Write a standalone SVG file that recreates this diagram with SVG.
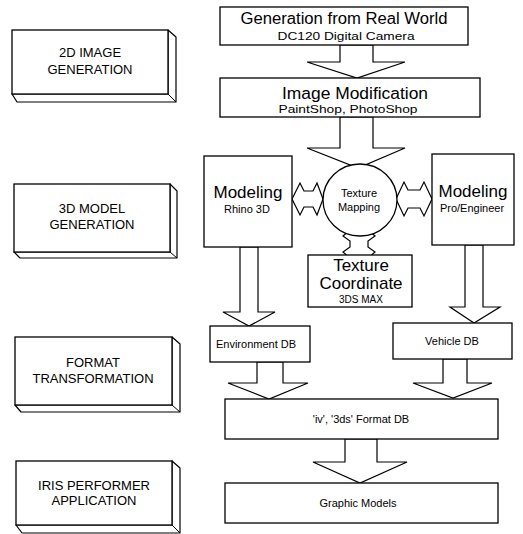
<svg xmlns="http://www.w3.org/2000/svg" width="523" height="534" viewBox="0 0 523 534">
<style>
.bx{fill:#fff;stroke:#000;stroke-width:1.3}
.dp{fill:#fff;stroke:#000;stroke-width:1.2;stroke-linejoin:round}
.ar{fill:#fff;stroke:#000;stroke-width:1.2;stroke-linejoin:miter}
text{font-family:"Liberation Sans",Arial,sans-serif;fill:#000;text-anchor:middle}
.st{font-size:13px}
.big{font-size:16px}
.sm{font-size:11px}
</style>
<rect width="523" height="534" fill="#fff"/>
<g id="stage-2d">
<polygon class="dp" points="168,30 176,37 176,102 17,102 12,94 168,94"/>
<line x1="168" y1="94" x2="176" y2="102" stroke="#000" stroke-width="1"/>
<rect class="bx" x="12" y="30" width="156" height="64"/>
<text class="st" x="90" y="57">2D IMAGE</text>
<text class="st" x="90" y="74">GENERATION</text>
</g>
<g id="stage-3d">
<polygon class="dp" points="170,184 177,191 177,258 20,258 14,252 170,252"/>
<line x1="170" y1="252" x2="177" y2="258" stroke="#000" stroke-width="1"/>
<rect class="bx" x="14" y="184" width="156" height="68"/>
<text class="st" x="92" y="213">3D MODEL</text>
<text class="st" x="92" y="229">GENERATION</text>
</g>
<g id="stage-format">
<polygon class="dp" points="172,337 180,344 180,412 21,412 15,405 172,405"/>
<line x1="172" y1="405" x2="180" y2="412" stroke="#000" stroke-width="1"/>
<rect class="bx" x="15" y="337" width="157" height="68"/>
<text class="st" x="93" y="367">FORMAT</text>
<text class="st" x="93" y="383">TRANSFORMATION</text>
</g>
<g id="stage-iris">
<polygon class="dp" points="172,461 180,468 180,533 22,533 16,525 172,525"/>
<line x1="172" y1="525" x2="180" y2="533" stroke="#000" stroke-width="1"/>
<rect class="bx" x="16" y="461" width="156" height="64"/>
<text class="st" x="94" y="490">IRIS PERFORMER</text>
<text class="st" x="94" y="505">APPLICATION</text>
</g>
<g id="connectors">
<polygon class="ar" points="340,45 340,62 307,62 357,78 405,62 373,62 373,45"/>
<polygon class="ar" points="340,117 340,148 307,148 358,168 405,148 373,148 373,117"/>
<polygon class="ar" points="292,199 300,183 304,191 313,191 317,183 323,199 317,215 313,207 304,207 300,215"/>
<polygon class="ar" points="396,199 404,182 408,190 420,190 424,182 432,199 424,216 420,208 408,208 404,216"/>
<polygon class="ar" points="359,222 375,236 368,241 368,247 375,252 359,266 343,252 350,247 350,241 343,236"/>
<polygon class="ar" points="240,247 240,312 223,312 249,326 275,312 258,312 258,247"/>
<polygon class="ar" points="465,245 465,307 450,307 474,323 500,307 483,307 483,245"/>
<polygon class="ar" points="257,362 257,383 228,383 269,399 308,383 283,383 283,362"/>
<polygon class="ar" points="443,359 443,383 413,383 453,398 492,383 467,383 467,359"/>
<polygon class="ar" points="345,439 345,462 313,462 360,483 407,462 377,462 377,439"/>
</g>
<g id="gen-real-world">
<rect class="bx" x="220" y="7" width="248" height="38"/>
<text class="big" x="344" y="24" textLength="207" lengthAdjust="spacingAndGlyphs">Generation from Real World</text>
<text class="sm" x="346" y="40" textLength="137" lengthAdjust="spacingAndGlyphs">DC120 Digital Camera</text>
</g>
<g id="image-modification">
<rect class="bx" x="220" y="78" width="260" height="39"/>
<text class="big" x="355" y="99" textLength="146" lengthAdjust="spacingAndGlyphs">Image Modification</text>
<text class="sm" x="348" y="113" textLength="139" lengthAdjust="spacingAndGlyphs">PaintShop, PhotoShop</text>
</g>
<g id="modeling-rhino">
<rect class="bx" x="204" y="156" width="88" height="91"/>
<text x="248" y="198" font-size="17">Modeling</text>
<text x="247" y="213" font-size="11">Rhino 3D</text>
</g>
<g id="texture-mapping">
<ellipse cx="360" cy="200" rx="37" ry="36" fill="#fff" stroke="#000" stroke-width="1.3"/>
<text x="359" y="197" font-size="11">Texture</text>
<text x="359" y="211" font-size="11">Mapping</text>
</g>
<g id="modeling-pro">
<rect class="bx" x="432" y="154" width="82" height="91"/>
<text x="473" y="197" font-size="17">Modeling</text>
<text x="472" y="212" font-size="11">Pro/Engineer</text>
</g>
<g id="texture-coordinate">
<rect class="bx" x="308" y="255" width="104" height="52"/>
<text x="361" y="271" font-size="17">Texture</text>
<text x="361" y="289" font-size="17">Coordinate</text>
<text x="361" y="303" font-size="10">3DS MAX</text>
</g>
<g id="environment-db">
<rect class="bx" x="210" y="326" width="100" height="36"/>
<text x="256" y="348" font-size="11">Environment DB</text>
</g>
<g id="vehicle-db">
<rect class="bx" x="393" y="323" width="119" height="36"/>
<text x="452" y="345" font-size="11">Vehicle DB</text>
</g>
<g id="format-db">
<rect class="bx" x="225" y="399" width="273" height="40"/>
<text x="361" y="423" font-size="11">'iv', '3ds' Format DB</text>
</g>
<g id="graphic-models">
<rect class="bx" x="225" y="483" width="273" height="40"/>
<text x="358" y="507" font-size="11">Graphic Models</text>
</g>
</svg>
